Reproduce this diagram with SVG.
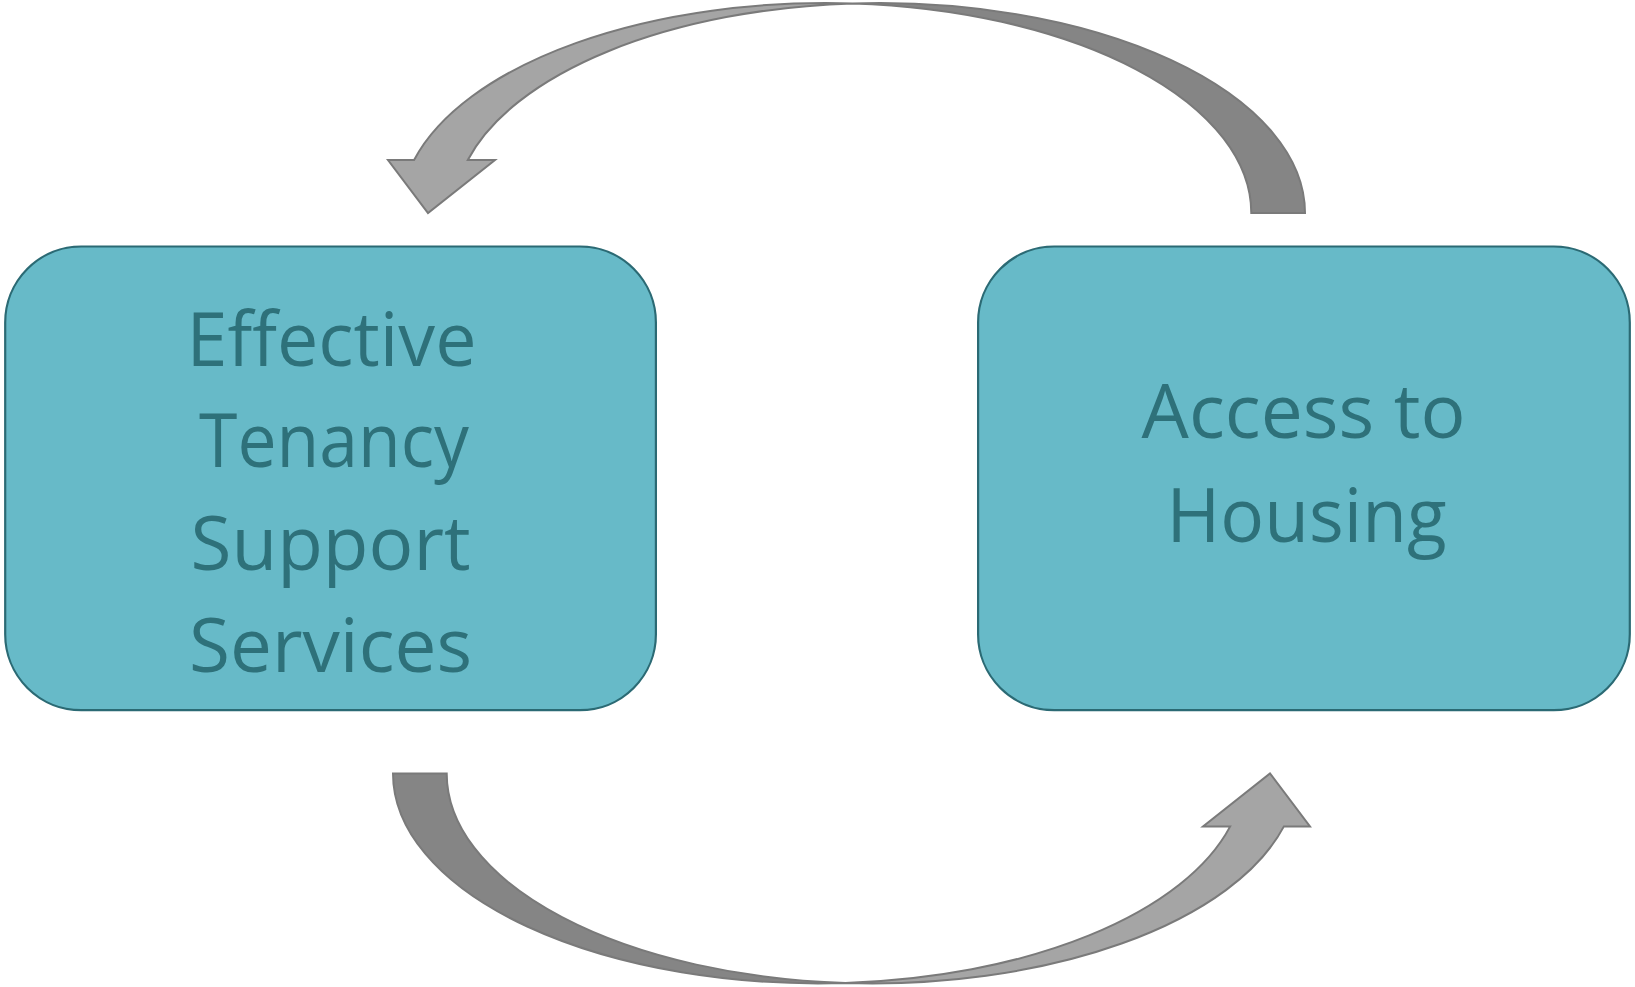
<svg xmlns="http://www.w3.org/2000/svg" width="1635" height="987" viewBox="0 0 1635 987">
<defs>
<style>
.box{fill:#67bac8;stroke:#2b6a74;stroke-width:2.2}
.lbl{font-family:"Open Sans","Noto Sans","DejaVu Sans",sans-serif;font-size:75px;fill:#2e717a;text-anchor:middle}
.back{fill:#858585;stroke:none}
.front{fill:#a5a5a5;stroke:none}
.outline{fill:none;stroke:#7a7a7a;stroke-width:2;stroke-linejoin:miter}
</style>
<g id="curvedArrow">
<path class="back" d="M1305,213 A425.5,210 0 0 0 852.65,3.42 A425.5,210 0 0 1 1251.3,213 Z"/>
<path class="front" d="M852.65,3.42 A425.5,210 0 0 0 414.1,160 L388,160 L428,213 L495,160 L467.8,160 A425.5,210 0 0 1 852.65,3.42 Z"/>
<path class="outline" d="M1251.3,213 L1305,213 A425.5,210 0 0 0 852.65,3.42 A425.5,210 0 0 0 414.1,160 L388,160 L428,213 L495,160 L467.8,160 A425.5,210 0 0 1 852.65,3.42 A425.5,210 0 0 1 1251.3,213 Z"/>
</g>
</defs>
<g id="connectors">
<use id="arrow-top" href="#curvedArrow"/>
<use id="arrow-bottom" href="#curvedArrow" transform="rotate(180 849 493.2)"/>
</g>
<g id="node-support">
<rect class="box" x="5.2" y="246.5" width="650.7" height="463.7" rx="76" ry="76"/>
<text class="lbl" x="331.5" y="366" textLength="290" lengthAdjust="spacingAndGlyphs">Effective</text>
<text class="lbl" x="334" y="467" textLength="270" lengthAdjust="spacingAndGlyphs">Tenancy</text>
<text class="lbl" x="330.5" y="569.5" textLength="280" lengthAdjust="spacingAndGlyphs">Support</text>
<text class="lbl" x="330.5" y="671.5" textLength="283" lengthAdjust="spacingAndGlyphs">Services</text>
</g>
<g id="node-housing">
<rect class="box" x="978.1" y="246.5" width="651.7" height="463.7" rx="76" ry="76"/>
<text class="lbl" x="1303.5" y="438.3" textLength="324" lengthAdjust="spacingAndGlyphs">Access to</text>
<text class="lbl" x="1306.5" y="541.7" textLength="280" lengthAdjust="spacingAndGlyphs">Housing</text>
</g>
</svg>
